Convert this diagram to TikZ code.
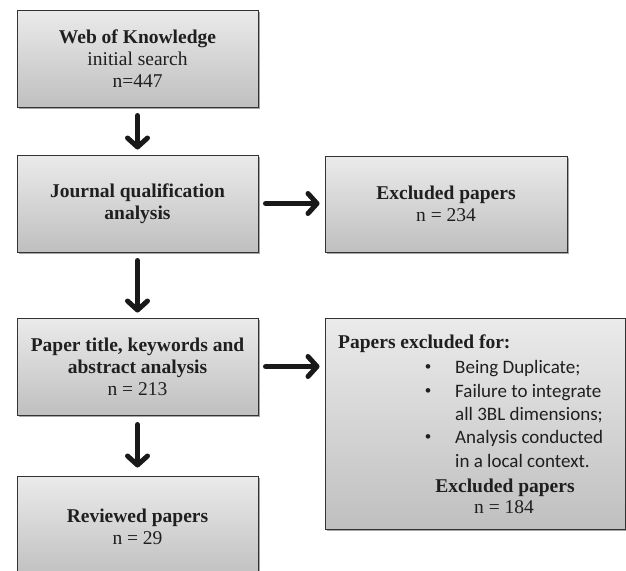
\documentclass[tikz,border=0pt]{standalone}
\usepackage{fontspec}
\setmainfont{Liberation Serif}
\newfontfamily\calib{Carlito}
\usetikzlibrary{arrows.meta,shadows}
\begin{document}
\begin{tikzpicture}[x=1pt,y=-1pt,
  boxstyle/.style={draw=black!80, line width=1pt, top color=gray!16, bottom color=gray!50,
    drop shadow={shadow xshift=2pt, shadow yshift=-2pt, opacity=0.35, fill=black},
    inner sep=0pt, align=center, font=\fontsize{19.5}{22}\selectfont, text=black!88},
  flow/.style={line width=5pt, line cap=round, line join=round, draw=black!90,
    -{Straight Barb[length=9pt, width=20pt, line width=5pt, line cap=round, line join=round]}},
  txt/.style={inner sep=0pt, font=\fontsize{19.5}{22}\selectfont, text=black!88},
  ctxt/.style={inner sep=0pt, font=\calib\fontsize{19}{23}\selectfont, text=black!88},
  bul/.style={inner sep=0pt, font=\calib\fontsize{13}{23}\selectfont, text=black!88}
]
\clip (0,0) rectangle (626,570);

\node[boxstyle, minimum width=241pt, minimum height=97pt] (b1) at (137.5,58.5)
  {\textbf{Web of Knowledge}\\initial search\\n=447};
\node[boxstyle, minimum width=241pt, minimum height=97pt] (b2) at (137.5,203.5)
  {\textbf{Journal qualification}\\\textbf{analysis}};
\node[boxstyle, minimum width=242pt, minimum height=96pt] (ex1) at (446,204)
  {\textbf{Excluded papers}\\n = 234};
\node[boxstyle, minimum width=241pt, minimum height=97pt] (b3) at (137.5,366.5)
  {\textbf{Paper title, keywords and}\\\textbf{abstract analysis}\\n = 213};
\node[boxstyle, minimum width=300pt, minimum height=211pt] (ex2) at (475,423.5) {};
\node[boxstyle, minimum width=241pt, minimum height=102pt] (b4) at (137.5,527)
  {\textbf{Reviewed papers}\\n = 29};

% text of the exclusion box
\node[txt, anchor=base west] (h2) at (338,348) {\textbf{Papers excluded for:}};
\node[bul, anchor=base] (u1) at (428,370) {•};
\node[ctxt, anchor=base west] (l1) at (455,373) {Being Duplicate;};
\node[bul, anchor=base] (u2) at (428,394) {•};
\node[ctxt, anchor=base west] (l2) at (455,397) {Failure to integrate};
\node[ctxt, anchor=base west] (l3) at (455,420) {all 3BL dimensions;};
\node[bul, anchor=base] (u3) at (428,440) {•};
\node[ctxt, anchor=base west] (l4) at (455,443) {Analysis conducted};
\node[ctxt, anchor=base west] (l5) at (455,467) {in a local context.};
\node[txt, anchor=base] (e2) at (505,492) {\textbf{Excluded papers}};
\node[txt, anchor=base] (n2) at (504,513) {n = 184};

% connectors
\draw[flow, shorten <=8pt, shorten >=5pt] (b1.south) -- (b2.north);
\draw[flow, shorten <=8pt, shorten >=5pt] (b2.south) -- (b3.north);
\draw[flow, shorten <=9pt, shorten >=8pt] (b3.south) -- (b4.north);
\draw[flow, shorten <=7pt, shorten >=5pt] (b2.east) -- (b2.east -| ex1.west);
\draw[flow, shorten <=7pt, shorten >=5pt] (b3.east) -- (b3.east -| ex2.west);
\end{tikzpicture}
\end{document}
